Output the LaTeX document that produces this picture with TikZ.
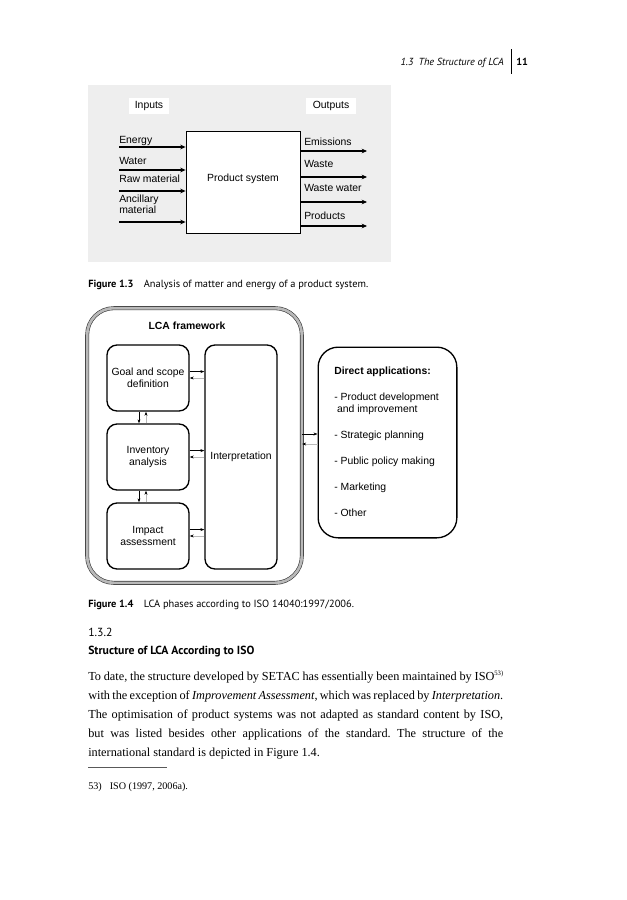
\documentclass[tikz,border=0pt]{standalone}
\usepackage{fontspec}
\setmainfont{Liberation Serif}
\setsansfont{Liberation Sans}
\newfontfamily\capfont{PT Sans}
\usetikzlibrary{arrows.meta}

\tikzset{
  figtext/.style={font=\sffamily\fontsize{7.8}{9.3}\selectfont, inner sep=0pt},
  flow/.style={line width=1.3pt, -{Stealth[length=4pt,width=3.5pt]}},
  phase/.style={figtext, draw, line width=1pt, rounded corners=7.5pt, align=center},
  link/.style={line width=0.4pt, -{Stealth[length=3pt,width=2.2pt]}},
  backlink/.style={line width=0.5pt, gray!55, -{Stealth[length=3pt,width=2.2pt,color=black]}},
  caption/.style={font=\capfont\fontsize{7.8}{9}\selectfont, inner sep=0pt, anchor=base west},
  bodyline/.style={font=\frenchspacing\fontsize{9.2}{14.25}\selectfont, inner sep=0pt, anchor=base west},
}

\begin{document}
\begin{tikzpicture}[x=0.75pt, y=-0.75pt]
\useasboundingbox[fill=white] (0,0) rectangle (627,900);

% running head
\node[font=\capfont\itshape\fontsize{7.7}{9}\selectfont, inner sep=0pt, anchor=base east] (head) at (504,65) {1.3\enspace The Structure of LCA};
\coordinate (bartop) at (511,49);
\coordinate (barbot) at (511,74);
\draw[line width=0.6pt] (bartop) -- (barbot);
\node[font=\capfont\bfseries\fontsize{7.7}{9}\selectfont, inner sep=0pt, anchor=base west] (page) at (516,65) {11};

% Figure 1.3
\fill[gray!13] (88,85) rectangle (391,262);
\node[figtext, fill=white, minimum width=30pt, minimum height=12pt] (inputs) at (149,106) {Inputs};
\node[figtext, fill=white, minimum width=38pt, minimum height=12pt] (outputs) at (331,106) {Outputs};
\node[draw, fill=white, line width=0.6pt, minimum width=85.5pt, minimum height=76.5pt, inner sep=0pt] (prod) at (243,182) {};
\node[figtext, anchor=base] (prodlab) at (243,181) {Product system};

\foreach \i/\ya in {1/147,2/170,3/191,4/222}
{
    \coordinate (in\i) at (119,\ya);
    \draw[flow] (in\i) -- (in\i -| prod.west);
}
\foreach \yb/\txt [count=\k] in {143/Energy,164/Water,182/Raw material,202/Ancillary,213/material}
    \node[figtext, anchor=base west] (inlab\k) at (119,\yb) {\txt};

\foreach \i/\ya in {1/151,2/177,3/202,4/226}
{
    \coordinate (out\i) at (367,\ya);
    \draw[flow] (out\i -| prod.east) -- (out\i);
}
\foreach \yb/\txt [count=\k] in {145/Emissions,167/Waste,191/Waste water,219/Products}
    \node[figtext, anchor=base west] (outlab\k) at (304,\yb) {\txt};

\node[caption] (cap13) at (88,287) {\textbf{Figure 1.3}\quad Analysis of matter and energy of a product system.};

% Figure 1.4
\node[draw=gray!45!black, double=gray!55, double distance=2pt, line width=0.45pt, rounded corners=20pt, minimum width=161pt, minimum height=206pt] (frame) at (194.5,445.5) {};
\node[figtext, font=\sffamily\bfseries\fontsize{7.8}{9.3}\selectfont, anchor=base] (framelab) at (187,329) {LCA framework};

\node[phase, minimum width=61.5pt, minimum height=49.5pt] (goal) at (148,378) {Goal and scope\\definition};
\node[phase, minimum width=61.5pt, minimum height=49.5pt] (inv) at (148,457) {Inventory\\analysis};
\node[phase, minimum width=61.5pt, minimum height=49.5pt] (impact) at (148,536) {Impact\\assessment};
\node[phase, minimum width=54pt, minimum height=168pt] (interp) at (241,457) {Interpretation};

\foreach \a in {goal,inv,impact}
{
    \draw[link] ([yshift=4.8pt]\a.east) -- ([yshift=4.8pt]\a.east -| interp.west);
    \draw[backlink] (\a.east -| interp.west) -- (\a.east);
}
\foreach \a/\b in {goal/inv,inv/impact}
{
    \draw[link] ([xshift=-6.75pt]\a.south) -- ([xshift=-6.75pt]\b.north);
    \draw[backlink] ([xshift=-1.5pt]\b.north) -- ([xshift=-1.5pt]\a.south);
}

\node[figtext, draw, line width=1pt, rounded corners=15pt, minimum width=104pt, minimum height=143pt] (direct) at (387.5,442.5) {};
\node[figtext, align=left, anchor=north west] (directlab) at (334,366.5) {\textbf{Direct applications:}\\[10.1pt]
- Product development\\
\ and improvement\\[10.1pt]
- Strategic planning\\[10.1pt]
- Public policy making\\[10.1pt]
- Marketing\\[10.1pt]
- Other};

\draw[link] (frame.east |- 0,434) -- (direct.west |- 0,434);
\draw[backlink] (direct.west |- 0,444) -- (frame.east |- 0,444);

\node[caption] (cap14) at (88,607) {\textbf{Figure 1.4}\quad LCA phases according to ISO 14040:1997/2006.};

% section 1.3.2
\node[caption, font=\capfont\fontsize{8.8}{10}\selectfont] (secnum) at (88,636) {1.3.2};
\node[caption, font=\capfont\bfseries\fontsize{8.8}{10}\selectfont] (sectitle) at (88,654) {Structure of LCA According to ISO};

\node[bodyline] (body1) at (88,680) {\makebox[311.25pt][s]{To date, the structure developed by SETAC has essentially been maintained by ISO\raisebox{3.5pt}{\fontsize{5}{5}\selectfont 53)}}};
\node[bodyline] (body2) at (88,699) {\makebox[311.25pt][s]{with the exception of \textit{Improvement Assessment}, which was replaced by \textit{Interpretation}.}};
\node[bodyline] (body3) at (88,718) {\makebox[311.25pt][s]{The optimisation of product systems was not adapted as standard content by ISO,}};
\node[bodyline] (body4) at (88,737) {\makebox[311.25pt][s]{but was listed besides other applications of the standard. The structure of the}};
\node[bodyline] (body5) at (88,756) {international standard is depicted in Figure 1.4.};

\coordinate (rulea) at (88,767);
\coordinate (ruleb) at (167,767);
\draw[line width=0.3pt, gray!70!black] (rulea) -- (ruleb);
\node[bodyline, font=\fontsize{7.6}{9}\selectfont] (foot) at (88,789) {53)\hspace{6pt}ISO (1997, 2006a).};
\end{tikzpicture}
\end{document}
